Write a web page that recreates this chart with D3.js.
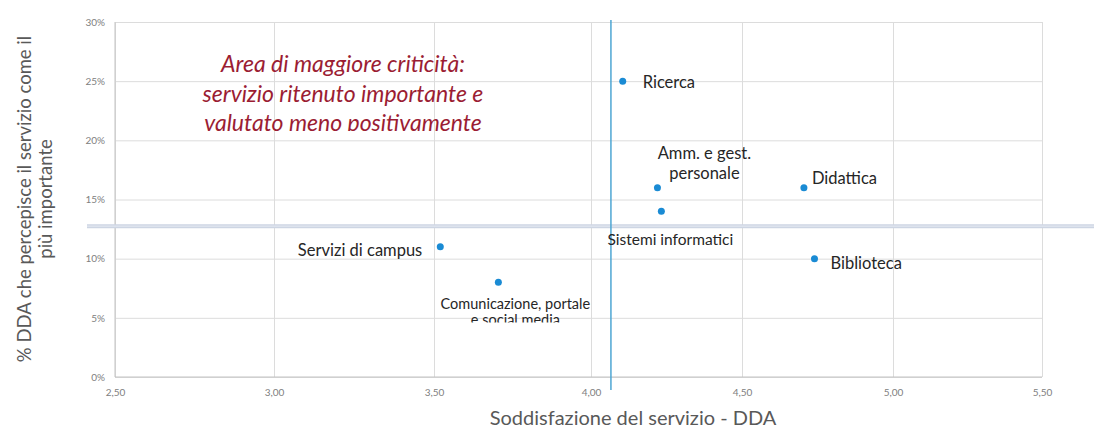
<!DOCTYPE html>
<html>
<head>
<meta charset="utf-8">
<script src="https://cdn.jsdelivr.net/npm/d3@7"></script>
<style>
  body { margin: 0; background: #fff; }
  text { font-family: Lato, "Open Sans", sans-serif; }
</style>
</head>
<body>
<div id="chart"></div>
<script>
var servizi = ["Ricerca", "Amm. e gest. personale", "Sistemi informatici", "Servizi di campus",
               "Comunicazione, portale e social media", "Didattica", "Biblioteca"];
var soddisfazione = [4.105, 4.22, 4.233, 3.52, 3.705, 4.705, 4.74];
var importanza = [0.25, 0.16, 0.14, 0.11, 0.08, 0.16, 0.10];

var xTicks = [2.5, 3.0, 3.5, 4.0, 4.5, 5.0, 5.5];
var yTicks = [0, 0.05, 0.10, 0.15, 0.20, 0.25, 0.30];

// quadrant dividers
var sogliaX = 4.066;
var sogliaY = 0.1275;

var nota = ["Area di maggiore criticità:", "servizio ritenuto importante e", "valutato meno positivamente"];

var width = 1094, height = 428;

var svg = d3.select("#chart").append("svg")
   .attr("width", width)
   .attr("height", height);

var defs = svg.append("defs");

// x positions follow the ticks of the original
var x = d3.scaleLinear()
   .domain(xTicks)
   .range([115, 274, 434, 591, 742, 893, 1042]);

var y = d3.scaleLinear()
   .domain([0, 0.30])
   .range([377, 22]);

// gridlines
var xGrid = d3.axisBottom(x).tickValues(xTicks).tickSize(-(y(0) - y(0.30))).tickFormat("");
svg.append("g")
   .attr("transform", "translate(0," + y(0) + ")")
   .call(xGrid)
   .call(function(g) {
      g.select(".domain").remove();
      g.selectAll(".tick line").attr("stroke", "#dcdcdc");
   });

var yGrid = d3.axisLeft(y).tickValues(yTicks).tickSize(-(x(5.5) - x(2.5))).tickFormat("");
svg.append("g")
   .attr("transform", "translate(" + x(2.5) + ",0)")
   .call(yGrid)
   .call(function(g) {
      g.select(".domain").remove();
      g.selectAll(".tick line").attr("stroke", "#dcdcdc");
   });

// axis lines
svg.append("line")
   .attr("x1", x(2.5)).attr("x2", x(2.5))
   .attr("y1", y(0.30)).attr("y2", y(0))
   .attr("stroke", "#c3c3c3");
svg.append("line")
   .attr("x1", x(2.5)).attr("x2", x(5.5))
   .attr("y1", y(0)).attr("y2", y(0))
   .attr("stroke", "#c3c3c3");

// tick labels
var itFmt = function(d) { return d3.format(".2f")(d).replace(".", ","); };

defs.append("clipPath").attr("id", "clipx")
   .append("rect").attr("x", 0).attr("y", 0).attr("width", width).attr("height", y(0) + 18.5);

var xAxis = d3.axisBottom(x).tickValues(xTicks).tickSize(0).tickPadding(12).tickFormat(itFmt);
svg.append("g")
   .attr("transform", "translate(0," + y(0) + ")")
   .attr("clip-path", "url(#clipx)")
   .style("font-size", "10px")
   .call(xAxis)
   .call(function(g) {
      g.select(".domain").remove();
      g.selectAll(".tick text").attr("fill", "#808080").style("font-family", "Lato, sans-serif");
   });

var yAxis = d3.axisLeft(y).tickValues(yTicks).tickSize(0).tickPadding(10)
   .tickFormat(function(d) { return Math.round(d * 100) + "%"; });
svg.append("g")
   .attr("transform", "translate(" + x(2.5) + ",0)")
   .style("font-size", "10px")
   .call(yAxis)
   .call(function(g) {
      g.select(".domain").remove();
      g.selectAll(".tick text").attr("fill", "#808080").style("font-family", "Lato, sans-serif");
   });

// horizontal threshold (double light line)
svg.append("line")
   .attr("x1", 87).attr("x2", width)
   .attr("y1", y(sogliaY)).attr("y2", y(sogliaY))
   .attr("stroke", "#cdd5e3").attr("stroke-width", 4);
svg.append("line")
   .attr("x1", 87).attr("x2", width)
   .attr("y1", y(sogliaY)).attr("y2", y(sogliaY))
   .attr("stroke", "#e8ecf3").attr("stroke-width", 1);

// vertical threshold
svg.append("line")
   .attr("x1", x(sogliaX)).attr("x2", x(sogliaX))
   .attr("y1", y(0.30) - 2).attr("y2", y(0) + 13)
   .attr("stroke", "#4ea6d3").attr("stroke-width", 1.5);

// annotation
var notaG = svg.append("text")
   .attr("fill", "#9b1d33")
   .attr("font-style", "italic")
   .attr("text-anchor", "middle")
   .style("font-size", "23px");
defs.append("clipPath").attr("id", "clipnota")
   .append("rect").attr("x", 0).attr("y", 0).attr("width", width).attr("height", 131);
notaG.attr("clip-path", "url(#clipnota)");
notaG.selectAll("tspan")
   .data(nota)
   .enter().append("tspan")
   .attr("x", 343)
   .attr("y", function(d, i) { return 72 + i * 29.5; })
   .text(function(d) { return d; });

// points
var punti = servizi.map(function(s, i) {
   return { nome: s, sx: soddisfazione[i], iy: importanza[i] };
});

svg.selectAll(".punto")
   .data(punti)
   .enter().append("circle")
   .attr("class", "punto")
   .attr("cx", function(d) { return x(d.sx); })
   .attr("cy", function(d) { return y(d.iy); })
   .attr("r", 3.5)
   .attr("fill", "#1a8bd4");

// label placement relative to each point
var etichette = {
   "Ricerca": { dx: 20, dy: [7], anchor: "start", size: 16.5, lines: ["Ricerca"] },
   "Amm. e gest. personale": { dx: 47, dy: [-29, -9], anchor: "middle", size: 16.5, lines: ["Amm. e gest.", "personale"] },
   "Sistemi informatici": { dx: 9, dy: [34], anchor: "middle", size: 15.5, lines: ["Sistemi informatici"] },
   "Servizi di campus": { dx: -18, dy: [9], anchor: "end", size: 16.5, lines: ["Servizi di campus"] },
   "Comunicazione, portale e social media": { dx: 17, dy: [27, 43], anchor: "middle", size: 14.5,
      lines: ["Comunicazione, portale", "e social media"], clipBottom: 322.5 },
   "Didattica": { dx: 8, dy: [-4], anchor: "start", size: 16.5, lines: ["Didattica"] },
   "Biblioteca": { dx: 16, dy: [10], anchor: "start", size: 16.5, lines: ["Biblioteca"] }
};

punti.forEach(function(d, i) {
   var e = etichette[d.nome];
   var px = x(d.sx), py = y(d.iy);
   var t = svg.append("text")
      .attr("fill", "#262626")
      .attr("text-anchor", e.anchor)
      .style("font-size", e.size + "px");
   if (e.clipBottom) {
      defs.append("clipPath").attr("id", "clipl" + i)
         .append("rect").attr("x", 0).attr("y", 0).attr("width", width).attr("height", e.clipBottom);
      t.attr("clip-path", "url(#clipl" + i + ")");
   }
   e.lines.forEach(function(l, j) {
      t.append("tspan").attr("x", px + e.dx).attr("y", py + e.dy[j]).text(l);
   });
});

// axis titles
var yTitle = svg.append("text")
   .attr("transform", "translate(31," + 199 + ") rotate(-90)")
   .attr("text-anchor", "middle")
   .attr("fill", "#595959")
   .style("font-size", "18.5px");
yTitle.append("tspan").attr("x", 0).attr("y", 0).text("% DDA che percepisce il servizio come il");
yTitle.append("tspan").attr("x", 0).attr("y", 21).text("più importante");

svg.append("text")
   .attr("x", 633)
   .attr("y", 425)
   .attr("text-anchor", "middle")
   .attr("fill", "#595959")
   .style("font-size", "20px")
   .text("Soddisfazione del servizio - DDA");
</script>
</body>
</html>
